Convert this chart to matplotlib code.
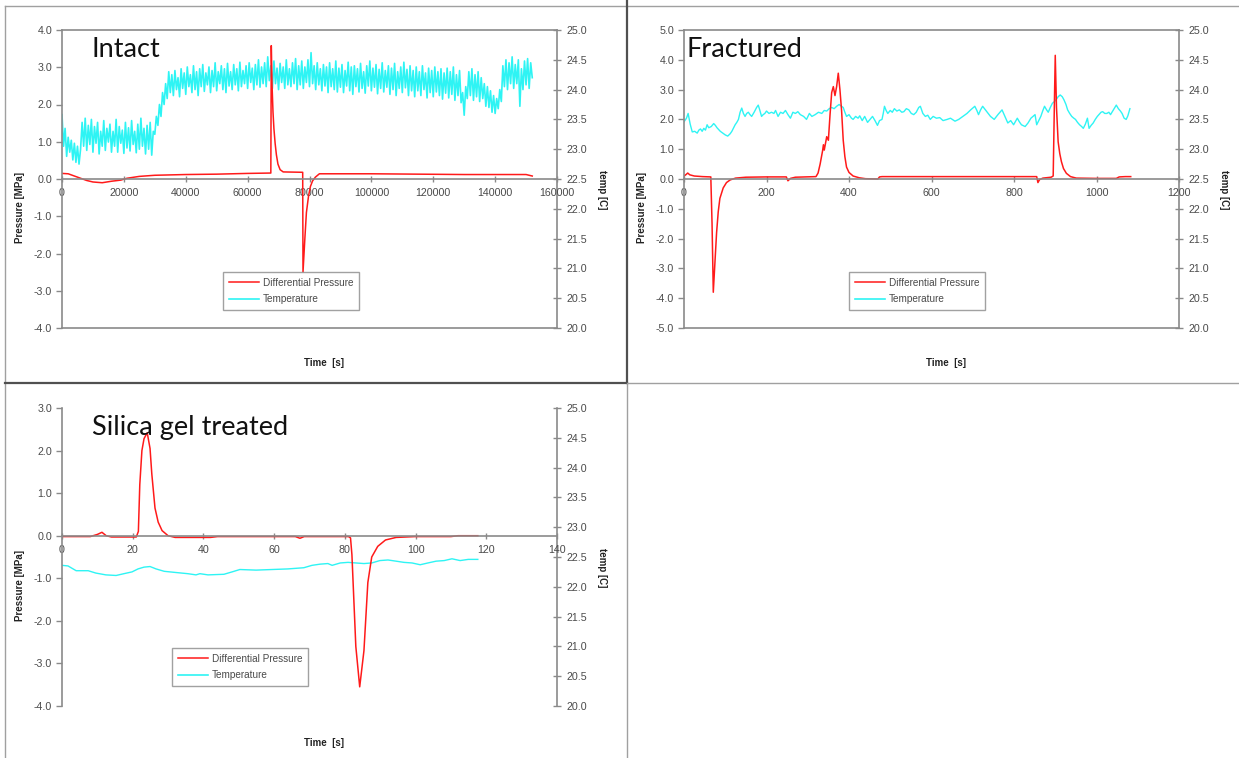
import matplotlib
matplotlib.use("Agg")
import matplotlib.pyplot as plt
from matplotlib.lines import Line2D

plt.rcParams["font.family"] = ["Liberation Sans", "DejaVu Sans"]
plt.rcParams["axes.unicode_minus"] = False

RED = "#ff1a1a"
CYAN = "#2ef4f4"
AXC = "#8a8a8a"
TXT = "#4a4a4a"

# ---- Intact ----
intact_p_t = [0, 2000, 5000, 8000, 10000, 13000, 16000, 19000, 21000, 25000, 30000, 40000,
              50000, 60000, 67500, 67650, 67900, 68200, 68500, 68900, 69300, 69800, 70500,
              71500, 77800, 77900, 78500, 79000, 79700, 80300, 81000, 81900, 83200, 100000,
              115000, 130000, 145000, 150000, 152000]
intact_p = [0.15, 0.14, 0.05, -0.04, -0.08, -0.1, -0.06, -0.03, 0.02, 0.07, 0.1, 0.12,
            0.13, 0.15, 0.16, 3.58, 2.5, 1.8, 1.35, 0.95, 0.65, 0.4, 0.25,
            0.19, 0.18, -2.5, -1.6, -0.9, -0.45, -0.2, -0.05, 0.05, 0.14, 0.14,
            0.13, 0.12, 0.12, 0.12, 0.08]
intact_temp_t = list(range(0, 152001, 500))
intact_temp = [
    23.58, 23.05, 23.35, 22.88, 23.2, 22.95, 23.15, 22.82, 23.1, 22.78,
    23.05, 22.75, 23.0, 23.45, 23.05, 23.52, 22.98, 23.4, 23.08, 23.5,
    22.95, 23.38, 23.1, 23.45, 22.92, 23.3, 23.05, 23.48, 22.98, 23.35,
    23.12, 23.42, 22.95, 23.3, 23.05, 23.5, 22.95, 23.38, 23.1, 23.32,
    22.93, 23.45, 23.02, 23.36, 22.97, 23.48, 23.08, 23.3, 22.94, 23.42,
    23.0, 23.52, 23.05, 23.35, 22.92, 23.4, 23.0, 23.45, 22.9, 23.3,
    23.25, 23.55, 23.4, 23.75, 23.55, 23.95, 23.75, 24.1, 23.85, 24.3,
    23.95, 24.25, 23.9, 24.32, 24.0, 24.2, 23.88, 24.35, 24.02, 24.28,
    23.92, 24.38, 24.05, 24.25, 23.95, 24.4, 24.0, 24.3, 23.9, 24.35,
    24.05, 24.42, 23.97, 24.28, 24.08, 24.38, 23.95, 24.32, 24.05, 24.45,
    23.98, 24.3, 24.1, 24.4, 24.0, 24.35, 23.95, 24.44, 24.06, 24.3,
    24.0, 24.42, 24.08, 24.35, 23.98, 24.46, 24.05, 24.32, 24.1, 24.4,
    24.02, 24.45, 24.12, 24.36, 24.0, 24.42, 24.08, 24.5, 24.04, 24.38,
    24.1, 24.45, 24.05, 24.55, 24.15, 24.4, 24.02, 24.48, 24.1, 24.36,
    24.0, 24.44, 24.12, 24.38, 24.02, 24.5, 24.08, 24.35, 24.05, 24.45,
    24.1, 24.52, 24.0, 24.4, 24.08, 24.48, 24.02, 24.38, 24.12, 24.5,
    24.05, 24.62, 24.1, 24.4, 24.0, 24.45, 24.08, 24.35, 23.98, 24.42,
    24.06, 24.38, 23.95, 24.45, 24.05, 24.35, 24.0, 24.48, 23.96, 24.36,
    24.04, 24.42, 23.95, 24.32, 24.06, 24.46, 23.98, 24.38, 23.92, 24.4,
    24.05, 24.35, 23.96, 24.44, 24.02, 24.3, 23.94, 24.4, 24.06, 24.48,
    23.98, 24.36, 24.04, 24.42, 23.93, 24.34, 24.02, 24.45, 23.96, 24.32,
    24.04, 24.4, 23.92, 24.36, 24.0, 24.44, 23.9, 24.3, 24.02, 24.38,
    23.95, 24.46, 24.03, 24.34, 23.9, 24.4, 23.98, 24.32, 23.88, 24.38,
    23.98, 24.3, 23.9, 24.4, 24.0, 24.28, 23.86, 24.36, 23.95, 24.32,
    23.88, 24.38, 23.96, 24.3, 23.9, 24.35, 23.84, 24.28, 23.94, 24.36,
    23.86, 24.3, 23.92, 24.38, 23.82, 24.25, 23.9, 24.32, 23.78, 23.95,
    23.57, 24.05, 23.85, 24.3, 23.9, 24.35, 23.82, 24.25, 23.88, 24.3,
    23.8, 24.2, 23.85, 24.1, 23.72, 24.05, 23.7, 23.98, 23.62, 23.9,
    23.6, 23.85, 23.68, 24.0, 23.8, 24.4, 24.05, 24.5, 24.0, 24.45,
    24.1, 24.55, 24.02, 24.42, 24.1, 24.5, 23.72, 24.35, 24.0, 24.48,
    24.08, 24.52, 24.02, 24.45, 24.2]

# ---- Fractured ----
frac_p_t = [0, 5, 9, 14, 25, 45, 65, 68, 71, 75, 79, 83, 87, 95, 103, 112, 125, 150, 200,
            248, 252, 258, 270, 320, 325, 330, 336, 338, 340, 346, 350, 354, 358, 362, 366,
            370, 374, 378, 382, 386, 390, 394, 400, 410, 425, 440, 470, 474, 480, 600, 800,
            855, 858, 862, 870, 890, 895, 898, 900, 903, 907, 911, 915, 920, 927, 937, 951,
            1000, 1048, 1055, 1070, 1083]
frac_p = [0.1, 0.15, 0.2, 0.14, 0.1, 0.08, 0.07, -1.5, -3.8, -2.8, -1.8, -1.1, -0.65, -0.3,
          -0.12, -0.03, 0.03, 0.06, 0.07, 0.07, -0.06, 0.02, 0.06, 0.08, 0.2, 0.5, 0.95,
          1.15, 0.97, 1.42, 1.3, 2.15, 2.9, 3.1, 2.8, 3.1, 3.55, 3.0, 2.3, 1.3, 0.75, 0.4,
          0.22, 0.1, 0.04, 0.01, 0.0, 0.07, 0.08, 0.08, 0.08, 0.08, -0.12, -0.02, 0.03,
          0.06, 0.1, 2.6, 4.15, 2.4, 1.25, 0.85, 0.58, 0.35, 0.19, 0.08, 0.03, 0.02, 0.02,
          0.07, 0.08, 0.08]
frac_temp_t = [0, 6, 10, 15, 20, 26, 32, 36, 40, 44, 48, 52, 56, 60, 66, 72, 76, 80, 88, 94,
               100, 106, 112, 116, 124, 128, 132, 136, 140, 144, 148, 152, 156, 160, 164, 170,
               176, 180, 184, 188, 192, 196, 200, 206, 212, 218, 222, 228, 234, 240, 246, 252,
               258, 264, 270, 276, 282, 290, 297, 304, 310, 318, 326, 334, 340, 346, 352, 358,
               364, 370, 376, 380, 386, 390, 394, 400, 406, 410, 416, 422, 426, 432, 438, 445,
               451, 457, 463, 469, 474, 480, 483, 486, 490, 494, 500, 505, 510, 516, 522, 528,
               533, 539, 545, 551, 557, 563, 569, 573, 579, 585, 591, 597, 604, 612, 620, 628,
               638, 646, 657, 666, 676, 686, 695, 705, 710, 714, 719, 724, 733, 743, 752, 761,
               771, 778, 785, 792, 799, 808, 813, 818, 827, 834, 841, 846, 851, 855, 860, 865,
               870, 874, 879, 883, 888, 893, 898, 902, 907, 912, 917, 921, 926, 930, 935, 940,
               945, 949, 954, 959, 964, 968, 973, 978, 982, 987, 992, 997, 1002, 1006, 1011,
               1015, 1020, 1025, 1030, 1034, 1040, 1044, 1048, 1053, 1058, 1062, 1067, 1072,
               1076, 1081]
frac_temp = [23.46, 23.52, 23.6, 23.42, 23.29, 23.3, 23.27, 23.32, 23.34, 23.3, 23.35, 23.32,
             23.41, 23.36, 23.38, 23.43, 23.4, 23.36, 23.3, 23.27, 23.24, 23.22, 23.26, 23.3,
             23.41, 23.45, 23.5, 23.62, 23.69, 23.6, 23.55, 23.6, 23.62, 23.58, 23.55, 23.62,
             23.7, 23.74, 23.65, 23.55, 23.58, 23.6, 23.64, 23.6, 23.62, 23.6, 23.65, 23.55,
             23.62, 23.6, 23.65, 23.58, 23.52, 23.62, 23.6, 23.63, 23.58, 23.55, 23.5, 23.6,
             23.55, 23.58, 23.62, 23.6, 23.65, 23.64, 23.68, 23.7, 23.68, 23.72, 23.75, 23.73,
             23.7, 23.62, 23.55, 23.58, 23.52, 23.5, 23.55, 23.52, 23.56, 23.48, 23.55, 23.45,
             23.5, 23.55, 23.48, 23.4, 23.48, 23.5, 23.6, 23.72, 23.65, 23.6, 23.65, 23.62,
             23.68, 23.64, 23.66, 23.62, 23.63, 23.68, 23.66, 23.6, 23.58, 23.62, 23.7, 23.72,
             23.6, 23.55, 23.57, 23.5, 23.55, 23.52, 23.53, 23.48, 23.5, 23.52, 23.47, 23.5,
             23.55, 23.6, 23.66, 23.72, 23.65, 23.58, 23.66, 23.72, 23.64, 23.55, 23.5, 23.58,
             23.66, 23.55, 23.44, 23.48, 23.41, 23.52, 23.46, 23.41, 23.38, 23.44, 23.52, 23.55,
             23.58, 23.41, 23.48, 23.55, 23.65, 23.72, 23.66, 23.62, 23.7, 23.77, 23.8, 23.83,
             23.88, 23.91, 23.88, 23.83, 23.75, 23.66, 23.6, 23.55, 23.52, 23.5, 23.45, 23.41,
             23.38, 23.35, 23.42, 23.52, 23.35, 23.4, 23.44, 23.5, 23.55, 23.58, 23.62, 23.63,
             23.6, 23.6, 23.62, 23.58, 23.65, 23.7, 23.74, 23.68, 23.64, 23.6, 23.52, 23.5,
             23.56, 23.68]

# ---- Silica gel treated ----
silica_p_t = [0, 8, 10, 11.3, 12.5, 14, 21, 21.6, 22, 22.6, 23.2, 24.1, 24.9, 25.4, 26.3,
              27.2, 28.3, 30, 32, 42, 44, 66, 67.3, 68.5, 81, 81.6, 82, 83.1, 84.2, 85.4,
              86.5, 87.6, 89.3, 91.5, 94.5, 100, 110, 112, 117.6]
silica_p = [-0.02, -0.02, 0.03, 0.08, 0.0, -0.03, -0.03, 0.1, 1.2, 2.0, 2.28, 2.42, 2.05,
            1.45, 0.65, 0.32, 0.12, 0.0, -0.04, -0.04, -0.02, -0.02, -0.06, -0.02, -0.02,
            -0.05, -0.45, -2.6, -3.55, -2.7, -1.1, -0.5, -0.25, -0.1, -0.04, -0.02, -0.02,
            0.0, 0.0]
silica_temp_t = [0, 1.7, 4, 7.4, 9.6, 12.4, 15.3, 17.5, 19.8, 21.5, 23.2, 24.9, 26.6, 28.9,
                 32.2, 35.6, 37.9, 39, 41.3, 45.8, 48.1, 50.3, 54.9, 59.4, 63.9, 68.4, 70.7,
                 73, 75.2, 76.4, 78.7, 80.9, 83.1, 85.4, 87.6, 89.9, 92.2, 94.5, 96.7, 99,
                 101.3, 103.5, 105.8, 108.1, 110.3, 112.6, 114.9, 117.6]
silica_temp = [22.36, 22.35, 22.27, 22.27, 22.23, 22.2, 22.19, 22.22, 22.25, 22.3, 22.33,
               22.34, 22.3, 22.26, 22.24, 22.22, 22.2, 22.22, 22.2, 22.21, 22.25, 22.29,
               22.28, 22.29, 22.3, 22.32, 22.36, 22.38, 22.39, 22.36, 22.4, 22.41, 22.4,
               22.39, 22.4, 22.44, 22.45, 22.43, 22.41, 22.4, 22.37, 22.4, 22.43, 22.44,
               22.47, 22.44, 22.46, 22.46]

W, H = 1239, 758
fig = plt.figure(figsize=(W / 100, H / 100), dpi=100)


def frect(l, t, r, b):
    return [l / W, 1 - b / H, (r - l) / W, (b - t) / H]


def panel(rect, xmax, xstep, ymin, ymax, boxed, title, title_x):
    ax = fig.add_axes(rect)
    tax = ax.twinx()
    ax.set_zorder(tax.get_zorder() + 1)  # pressure drawn over temperature
    ax.patch.set_visible(False)
    ax.set_xlim(0, xmax)
    ax.set_ylim(ymin, ymax)
    tax.set_ylim(20, 25)
    ax.set_xticks(range(0, xmax + 1, xstep))
    ax.set_yticks(range(int(ymin), int(ymax) + 1))
    ax.yaxis.set_major_formatter(matplotlib.ticker.FormatStrFormatter("%.1f"))
    tax.set_yticks([20 + 0.5 * i for i in range(11)])
    tax.yaxis.set_major_formatter(matplotlib.ticker.FormatStrFormatter("%.1f"))
    ax.spines["bottom"].set_position(("data", 0))
    ax.spines["right"].set_visible(False)
    for s in ("left", "top", "bottom"):
        tax.spines[s].set_visible(False)
    if not boxed:
        ax.spines["top"].set_visible(False)
    else:
        ax.plot([0, 1], [0, 0], transform=ax.transAxes, color=AXC, lw=1.2, clip_on=False)
    for sp in list(ax.spines.values()) + [tax.spines["right"]]:
        sp.set_color(AXC)
        sp.set_linewidth(1.2)
    ax.tick_params(axis="x", direction="inout", length=5, width=1, color=AXC,
                   labelsize=7.7, labelcolor=TXT, pad=4)
    ax.tick_params(axis="y", direction="out", length=4, width=1, color=AXC,
                   labelsize=7.7, labelcolor=TXT, pad=3)
    tax.tick_params(axis="y", direction="inout", length=6, width=1, color=AXC,
                    labelsize=7.7, labelcolor=TXT, pad=4)
    ax.text(title_x, 0.975, title, transform=ax.transAxes, ha="left", va="top",
            fontsize=19.5, family="Lato", color="#111111")
    ax.text(-0.085, 0.406, "Pressure [MPa]", transform=ax.transAxes, rotation=90,
            ha="center", va="center", fontsize=7, fontweight="bold", color="#222222")
    tax.text(1.09, 0.463, "temp [C]", transform=ax.transAxes, rotation=270,
             ha="center", va="center", fontsize=7, fontweight="bold", color="#222222")
    return ax, tax


def finish(ax, tax, t_p, p, t_t, temp, leg_x, leg_y, time_y, temp_lw=1.0):
    lp, = ax.plot(t_p, p, color=RED, lw=1.1)
    tax.plot(t_t, temp, color=CYAN, lw=temp_lw)
    lt = Line2D([], [], color=CYAN, lw=1.2)
    leg = ax.legend([lp, lt], ["Differential Pressure", "Temperature"], loc="upper left",
                    bbox_to_anchor=(leg_x, leg_y), fancybox=False, edgecolor=AXC,
                    fontsize=7.2, handlelength=3.0, borderpad=0.6, labelspacing=0.65,
                    handletextpad=0.4, borderaxespad=0)
    leg.get_frame().set_linewidth(1.0)
    for txt in leg.get_texts():
        txt.set_color(TXT)
    ax.text(0.53, time_y, "Time  [s]", transform=ax.transAxes, ha="center", va="center",
            fontsize=7, fontweight="bold", color="#222222")


ax1, tax1 = panel(frect(62, 30, 557, 328), 160000, 20000, -4, 4, True, "Intact", 0.06)
finish(ax1, tax1, intact_p_t, intact_p, intact_temp_t, intact_temp, 0.325, 0.188, -0.117,
       temp_lw=1.2)

ax2, tax2 = panel(frect(684, 30, 1179, 328), 1200, 200, -5, 5, True, "Fractured", 0.006)
finish(ax2, tax2, frac_p_t, frac_p, frac_temp_t, frac_temp, 0.333, 0.188, -0.117)

ax3, tax3 = panel(frect(62, 408, 557, 706), 140, 20, -4, 3, False, "Silica gel treated", 0.06)
finish(ax3, tax3, silica_p_t, silica_p, silica_temp_t, silica_temp, 0.222, 0.195, -0.124)


# panel frames
def fline(x0, y0, x1, y1, c, lw):
    fig.add_artist(Line2D([x0 / W, x1 / W], [1 - y0 / H, 1 - y1 / H], color=c, lw=lw))


fline(5, 6, W, 6, "#a0a0a0", 1.0)
fline(5, 6, 5, H, "#a0a0a0", 1.0)
fline(627, 0, 627, 383, "#505050", 1.6)
fline(627, 383, 627, H, "#a0a0a0", 1.0)
fline(5, 383, 627, 383, "#505050", 1.6)
fline(627, 383, W, 383, "#a0a0a0", 1.0)

fig.savefig("out.png", dpi=100)
